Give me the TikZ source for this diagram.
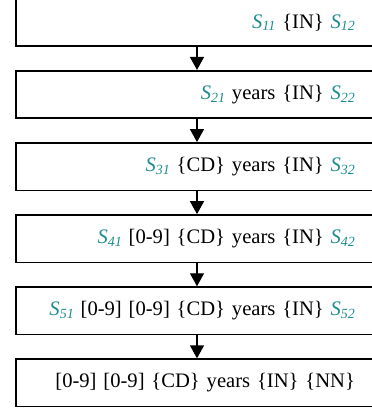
\documentclass[tikz,border=0pt]{standalone}
\usepackage{fontspec}
\setmainfont{Liberation Serif}
\usetikzlibrary{arrows.meta}
\definecolor{tealS}{HTML}{1E8C8C}
\newcommand{\Sv}[1]{{\color{tealS}\itshape S\raisebox{-0.28ex}{\fontsize{14pt}{14pt}\selectfont #1}}}
\begin{document}
\begin{tikzpicture}[x=1pt,y=-1pt,
  stagebox/.style={draw,line width=1.6pt,rectangle,minimum width=362pt,minimum height=47.5pt,
    text width=316pt,align=right,inner xsep=23pt,inner ysep=0pt,font=\fontsize{20.6pt}{23pt}\selectfont},
  conn/.style={line width=1.3pt,-{Triangle[width=14pt,length=13pt]}}]
\useasboundingbox (0,0) rectangle (372,408);
\clip (0,0) rectangle (372,408);
\node[stagebox] (b1) at (197,22.4) {\Sv{11} \{IN\} \Sv{12}};
\node[stagebox] (b2) at (197,94.5) {\Sv{21} years \{IN\} \Sv{22}};
\node[stagebox] (b3) at (197,166.6) {\Sv{31} \{CD\} years \{IN\} \Sv{32}};
\node[stagebox] (b4) at (197,238.7) {\Sv{41} [0-9] \{CD\} years \{IN\} \Sv{42}};
\node[stagebox] (b5) at (197,310.8) {\Sv{51} [0-9] [0-9] \{CD\} years \{IN\} \Sv{52}};
\node[stagebox] (b6) at (197,382.9) {[0-9] [0-9] \{CD\} years \{IN\} \{NN\}};
\draw[conn] (b1.south) -- (b2.north);
\draw[conn] (b2.south) -- (b3.north);
\draw[conn] (b3.south) -- (b4.north);
\draw[conn] (b4.south) -- (b5.north);
\draw[conn] (b5.south) -- (b6.north);
\end{tikzpicture}
\end{document}
